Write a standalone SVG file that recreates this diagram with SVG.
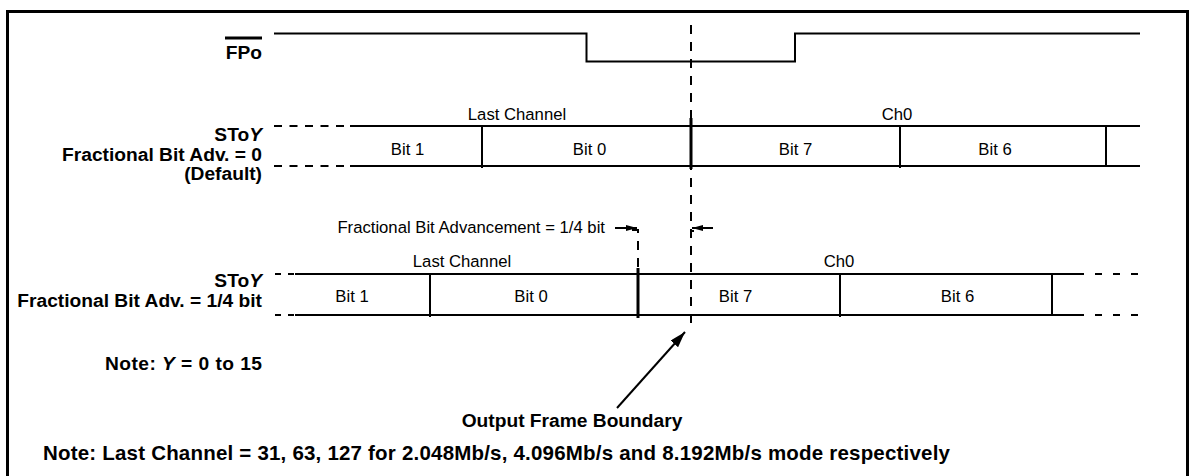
<svg xmlns="http://www.w3.org/2000/svg" width="1197" height="476" viewBox="0 0 1197 476">
<style>
.ln{stroke:#000;stroke-width:2;fill:none}
.thk{stroke:#000;stroke-width:3;fill:none}
.dsh{stroke:#000;stroke-width:2;fill:none;stroke-dasharray:8 7.5}
.dshv{stroke:#000;stroke-width:2;fill:none;stroke-dasharray:9 8}
.b{font-family:"Liberation Sans",Arial,sans-serif;font-weight:bold;font-size:19.2px;fill:#000}
.n{font-family:"Liberation Sans",Arial,sans-serif;font-size:16.7px;fill:#000}
.e{text-anchor:end}
.m{text-anchor:middle}
</style>
<defs>
<marker id="ah" viewBox="0 0 11 6" refX="11" refY="3" markerWidth="11" markerHeight="6" markerUnits="userSpaceOnUse" orient="auto">
<path d="M0,0 L11,3 L0,6 Z" fill="#000"/>
</marker>
<marker id="ahb" viewBox="0 0 16 10" refX="16" refY="5" markerWidth="16" markerHeight="10" markerUnits="userSpaceOnUse" orient="auto">
<path d="M0,0 L16,5 L0,10 Z" fill="#000"/>
</marker>
</defs>
<rect id="frame" x="7.5" y="11.5" width="1180" height="480" fill="#fff" stroke="#000" stroke-width="3"/>

<g id="fpo">
<text class="b e" x="262" y="59">FPo</text>
<line class="thk" x1="225" y1="38" x2="262" y2="38"/>
<path class="ln" d="M274,33.5 H586.5 V61.5 H795 V33.5 H1140"/>
</g>

<g id="sto-default">
<text class="b e" x="262" y="141">STo<tspan font-style="italic">Y</tspan></text>
<text class="b e" x="262" y="161">Fractional Bit Adv. = 0</text>
<text class="b e" x="262" y="180">(Default)</text>
<line class="dsh" x1="274" y1="126" x2="350" y2="126"/>
<line class="dsh" x1="274" y1="166" x2="350" y2="166"/>
<line class="ln" x1="350" y1="126" x2="1140" y2="126"/>
<line class="ln" x1="350" y1="166" x2="1140" y2="166"/>
<line class="ln" x1="482" y1="126" x2="482" y2="168"/>
<line class="thk" x1="691" y1="118" x2="691" y2="169"/>
<line class="ln" x1="900" y1="126" x2="900" y2="168"/>
<line class="ln" x1="1106" y1="126" x2="1106" y2="166"/>
<text class="n m" x="517" y="120">Last Channel</text>
<text class="n m" x="897" y="120">Ch0</text>
<text class="n m" x="407.5" y="155">Bit 1</text>
<text class="n m" x="589.5" y="155">Bit 0</text>
<text class="n m" x="795.5" y="155">Bit 7</text>
<text class="n m" x="995" y="155">Bit 6</text>
</g>

<g id="sto-quarter">
<text class="b e" x="262" y="287">STo<tspan font-style="italic">Y</tspan></text>
<text class="b e" x="262" y="307">Fractional Bit Adv. = 1/4 bit</text>
<line class="dsh" x1="275" y1="274" x2="296" y2="274" style="stroke-dasharray:6 7"/>
<line class="dsh" x1="275" y1="315" x2="296" y2="315" style="stroke-dasharray:6 7"/>
<line class="ln" x1="295" y1="274" x2="1077" y2="274"/>
<line class="ln" x1="295" y1="315" x2="1077" y2="315"/>
<line class="dsh" x1="1077" y1="274" x2="1140" y2="274" style="stroke-dasharray:7 11"/>
<line class="dsh" x1="1077" y1="315" x2="1140" y2="315" style="stroke-dasharray:7 11"/>
<line class="ln" x1="430" y1="274" x2="430" y2="317"/>
<line class="thk" x1="638" y1="268" x2="638" y2="318"/>
<line class="ln" x1="840" y1="274" x2="840" y2="317"/>
<line class="ln" x1="1052" y1="274" x2="1052" y2="316"/>
<text class="n m" x="462" y="267">Last Channel</text>
<text class="n m" x="839" y="267">Ch0</text>
<text class="n m" x="352" y="302">Bit 1</text>
<text class="n m" x="531" y="302">Bit 0</text>
<text class="n m" x="735.5" y="302">Bit 7</text>
<text class="n m" x="957.5" y="302">Bit 6</text>
</g>

<g id="notes">
<text class="b e" x="262" y="370" textLength="157" lengthAdjust="spacing">Note: <tspan font-style="italic">Y</tspan> = 0 to 15</text>
<text class="b m" x="572" y="427">Output Frame Boundary</text>
<text class="b" x="43" y="460" style="font-size:20.5px" textLength="907" lengthAdjust="spacing">Note: Last Channel = 31, 63, 127 for 2.048Mb/s, 4.096Mb/s and 8.192Mb/s mode respectively</text>
<text class="n e" x="605" y="233">Fractional Bit Advancement = 1/4 bit</text>
</g>

<g id="connectors">
<line class="dshv" x1="691" y1="25" x2="691" y2="328"/>
<path class="dshv" d="M632,230 H638 V268"/>
<path class="ln" d="M691,231 H694"/>
<line class="ln" x1="615" y1="228" x2="637" y2="228" marker-end="url(#ah)"/>
<line class="ln" x1="713" y1="228" x2="692" y2="228" marker-end="url(#ah)"/>
<line class="ln" x1="617" y1="408" x2="685" y2="332" marker-end="url(#ahb)"/>
</g>
</svg>
